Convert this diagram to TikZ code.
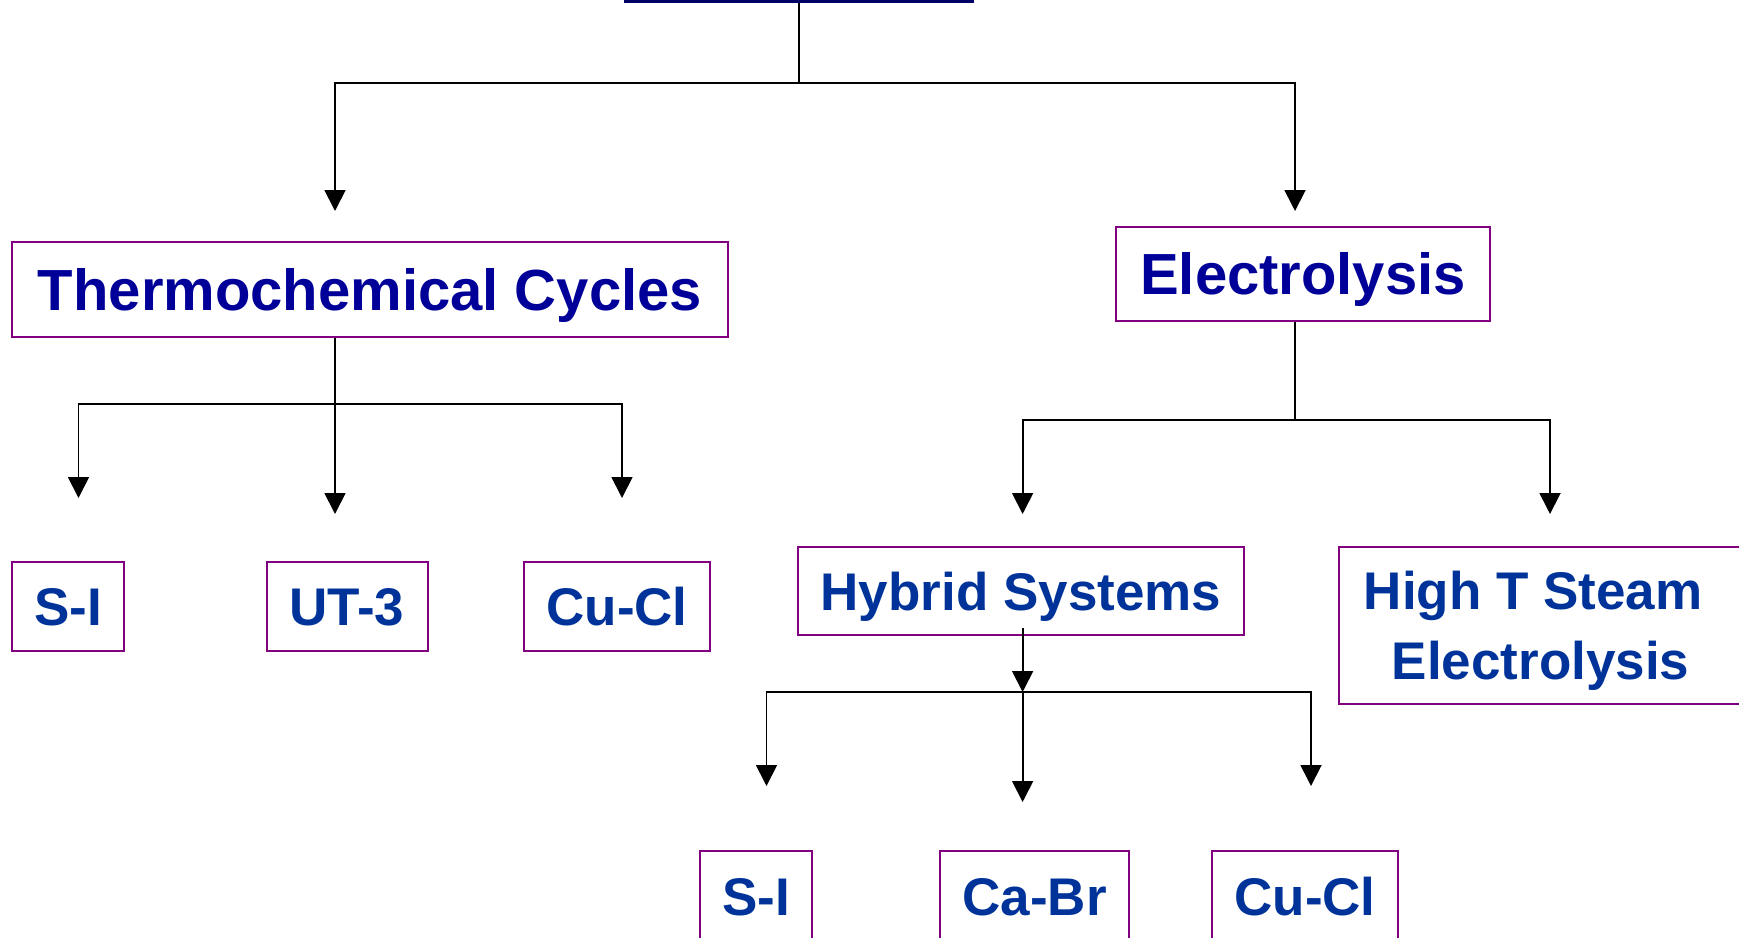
\documentclass[tikz,border=0pt]{standalone}
\usepackage{fontspec}
\setmainfont{Liberation Sans}
\usepackage{xcolor}
\usepackage{tikz}
\usetikzlibrary{positioning, arrows.meta, calc}
\definecolor{topnavy}{HTML}{000066}
\definecolor{headblue}{HTML}{000099}
\definecolor{subblue}{HTML}{003399}
\definecolor{boxpurple}{HTML}{800080}

\begin{document}
\begin{tikzpicture}[x=1pt, y=-1pt,
  head/.style={rectangle, draw=boxpurple, line width=2pt, inner sep=0pt,
    text=headblue, font=\fontsize{58}{70}\selectfont\bfseries,
    text height=41.5pt, text depth=0pt},
  leafbox/.style={rectangle, draw=boxpurple, line width=2pt, inner sep=0pt,
    text=subblue, font=\fontsize{53}{70}\selectfont\bfseries},
  leaf/.style={leafbox, text height=38pt, text depth=0pt},
  wire/.style={line width=1.8pt, draw=black},
  link/.style={-{Triangle[length=21pt, width=21pt]}, line width=1.8pt, draw=black}
]
  \useasboundingbox (0,0) rectangle (1739,937);

  \node[rectangle, draw=topnavy, line width=5pt, minimum width=345pt,
    minimum height=100pt, anchor=south] (src) at (799,2.5) {};

  \node[head, minimum width=716pt, minimum height=95pt] (tc) at (370,289.5) {Thermochemical Cycles};
  \node[head, minimum width=374pt, minimum height=94pt] (el) at (1303,274) {Electrolysis};

  \node[leaf, minimum width=112pt, minimum height=89pt] (tc1) at (68,606.5) {S-I};
  \node[leaf, minimum width=161pt, minimum height=89pt] (tc2) at (347,606.5) {UT-3};
  \node[leaf, minimum width=186pt, minimum height=89pt] (tc3) at (617,606.5) {Cu-Cl};

  \node[leaf, minimum width=446pt, minimum height=88pt] (hy) at (1021,591) {Hybrid Systems};
  \node[leafbox, align=center, text depth=0pt, minimum width=403pt,
    minimum height=157pt] (ht) at (1540.5,625.5) {High T Steam\kern0.28em\\Electrolysis};

  \node[leaf, minimum width=112pt, minimum height=90pt] (hy1) at (756,896) {S-I};
  \node[leaf, minimum width=189pt, minimum height=90pt] (hy2) at (1034.5,896) {Ca-Br};
  \node[leaf, minimum width=186pt, minimum height=90pt] (hy3) at (1305,896) {Cu-Cl};

  \coordinate (j0) at (799,83);
  \coordinate (t-tc) at (335,211);
  \coordinate (t-el) at (1295,211);
  \draw[wire] (src.south) -- (j0);
  \draw[link] (j0) -| (t-tc);
  \draw[link] (j0) -| (t-el);

  \coordinate (j1) at (335,404);
  \coordinate (t-tc1) at (78.5,498);
  \coordinate (t-tc2) at (335,514);
  \coordinate (t-tc3) at (622,498);
  \draw[wire] (tc.south -| j1) -- (j1);
  \draw[link] (j1) -| (t-tc1);
  \draw[link] (j1) -- (t-tc2);
  \draw[link] (j1) -| (t-tc3);

  \coordinate (j2) at (1295,420);
  \coordinate (t-hy) at (1022.6,514);
  \coordinate (t-ht) at (1550,514);
  \draw[wire] (el.south -| j2) -- (j2);
  \draw[link] (j2) -| (t-hy);
  \draw[link] (j2) -| (t-ht);

  \coordinate (j3) at (1022.6,692);
  \coordinate (t-hy1) at (766.5,786);
  \coordinate (t-hy2) at (1022.6,802);
  \coordinate (t-hy3) at (1311,786);
  \draw[link] ($(hy.south -| j3)+(0,-8)$) -- (j3);
  \draw[link] (j3) -| (t-hy1);
  \draw[link] (j3) -- (t-hy2);
  \draw[link] (j3) -| (t-hy3);
\end{tikzpicture}
\end{document}
